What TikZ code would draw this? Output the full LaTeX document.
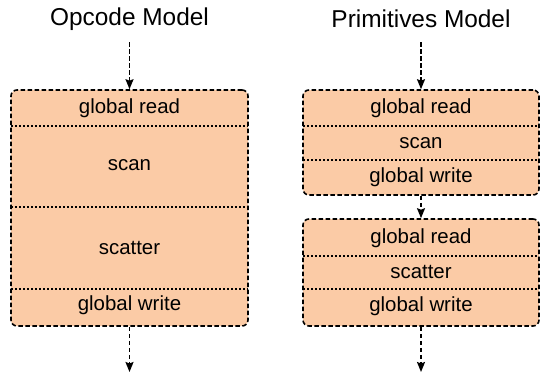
\documentclass[tikz,border=0pt]{standalone}
\usepackage{fontspec}
\setmainfont{Liberation Sans}
\usetikzlibrary{arrows.meta}
\definecolor{peach}{HTML}{FBCBA6}
\tikzset{
	stage/.style={draw=black, fill=peach, line width=1.6bp, dash pattern=on 4.5bp off 2.5bp, rounded corners=6bp, inner sep=0pt},
	sepline/.style={line width=1.6bp, dash pattern=on 1.5bp off 2.5bp},
	flow/.style={line width=1.6bp, dash pattern=on 4.5bp off 2.5bp, -{Stealth[length=10bp,width=8bp,inset=1.5bp]}},
	lbl/.style={font=\fontsize{20.5}{24}\selectfont},
	ttl/.style={font=\fontsize{24.5}{28}\selectfont}
}
\begin{document}
\begin{tikzpicture}[x=1bp,y=1bp]
			%%%%% START %%%%%
			\useasboundingbox (0,0) rectangle (540,374);
			
			% opcode model
			\node[ttl] (optitle) at (129.5,355) {Opcode Model};
			\node[stage, minimum width=237bp, minimum height=236bp] (opbox) at (129.5,166) {};
			\draw[sepline] (11,248) -- (248,248);
			\draw[sepline] (11,167) -- (248,167);
			\draw[sepline] (11,85) -- (248,85);
			\node[lbl] (opread) at (129.5,266) {global read};
			\node[lbl] (opscan) at (129.5,209) {scan};
			\node[lbl] (opscat) at (129.5,126) {scatter};
			\node[lbl] (opwrite) at (129.5,69) {global write};
			\coordinate (opin) at (129.5,332);
			\coordinate (opout) at (129.5,2);
			\draw[flow] (opin) -- (opbox.north);
			\draw[flow] (opbox.south) -- (opout);
			
			% primitives model
			\node[ttl] (prtitle) at (421,355) {Primitives Model};
			\node[stage, minimum width=236bp, minimum height=105bp] (prscan) at (421,231.5) {};
			\node[stage, minimum width=236bp, minimum height=107bp] (prscat) at (421,101.5) {};
			\draw[sepline] (303,248) -- (539,248);
			\draw[sepline] (303,214) -- (539,214);
			\draw[sepline] (303,118) -- (539,118);
			\draw[sepline] (303,85) -- (539,85);
			\node[lbl] (prreadA) at (421,266) {global read};
			\node[lbl] (prscanlbl) at (421,231) {scan};
			\node[lbl] (prwriteA) at (421,197) {global write};
			\node[lbl] (prreadB) at (421,136) {global read};
			\node[lbl] (prscatlbl) at (421,102) {scatter};
			\node[lbl] (prwriteB) at (421,68) {global write};
			\coordinate (prin) at (421,332);
			\coordinate (prout) at (421,2);
			\draw[flow] (prin) -- (prscan.north);
			\draw[flow] (prscan.south) -- (prscat.north);
			\draw[flow] (prscat.south) -- (prout);
			
			%%%%% END %%%%%
\end{tikzpicture}
\end{document}
